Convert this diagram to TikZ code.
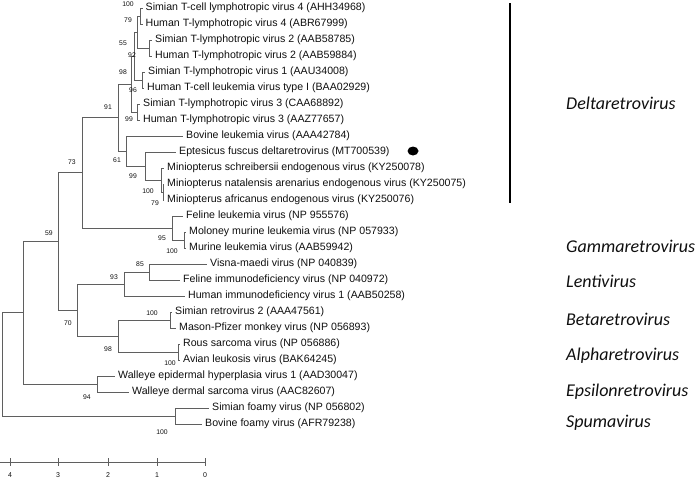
\documentclass[tikz,border=0pt]{standalone}
\usepackage{fontspec}
\setmainfont{Liberation Sans}
\newfontfamily\grpfont{Carlito}
\usetikzlibrary{shapes.geometric}
\definecolor{brc}{RGB}{95,95,95}
\definecolor{txc}{RGB}{15,15,15}
\tikzset{
  br/.style={draw=brc, line width=0.9pt},
  leaf/.style={anchor=west, inner xsep=3pt, inner ysep=0pt, font=\fontsize{10.6}{12}\selectfont, text=txc, text height=7.6pt, text depth=2.2pt},
  bs/.style={font=\fontsize{6.8}{8}\selectfont, text=txc, inner sep=0pt},
  grp/.style={anchor=west, font=\grpfont\itshape\fontsize{18}{20}\selectfont, text=txc, inner sep=0pt},
  sbl/.style={font=\fontsize{7}{8}\selectfont, text=txc, inner sep=0pt}
}
\begin{document}
\begin{tikzpicture}[x=1pt,y=-1pt]
\useasboundingbox (0,0) rectangle (696,479);
% internal nodes
\coordinate (ROOT) at (2,364.3);
\coordinate (A) at (23,312.7);
\coordinate (N59) at (58,241.4);
\coordinate (N73) at (82,172.75);
\coordinate (N91) at (118,117.5);
\coordinate (H) at (131.5,84);
\coordinate (N55) at (134,56);
\coordinate (N79) at (137,32);
\coordinate (P4) at (140,16);
\coordinate (P2) at (149,48);
\coordinate (P1) at (142,80);
\coordinate (P3) at (137,112);
\coordinate (N61) at (126,151);
\coordinate (N99) at (145,166);
\coordinate (M1) at (161,180);
\coordinate (M2) at (163,192);
\coordinate (G) at (172,228);
\coordinate (MLV) at (184,240);
\coordinate (N70) at (77,310);
\coordinate (LN) at (124,284);
\coordinate (V) at (149,272);
\coordinate (BA) at (118,336);
\coordinate (BE) at (170,320);
\coordinate (AL) at (178,352);
\coordinate (EP) at (97,384);
\coordinate (SP) at (175,416);
% leaves
\node[leaf] (L1) at (142.5,8) {Simian T-cell lymphotropic virus 4 (AHH34968)};
\node[leaf] (L2) at (142.5,24) {Human T-lymphotropic virus 4 (ABR67999)};
\node[leaf] (L3) at (152,40) {Simian T-lymphotropic virus 2 (AAB58785)};
\node[leaf] (L4) at (152,56) {Human T-lymphotropic virus 2 (AAB59884)};
\node[leaf] (L5) at (145,72) {Simian T-lymphotropic virus 1 (AAU34008)};
\node[leaf] (L6) at (144,88) {Human T-cell leukemia virus type I (BAA02929)};
\node[leaf] (L7) at (140,104) {Simian T-lymphotropic virus 3 (CAA68892)};
\node[leaf] (L8) at (140,120) {Human T-lymphotropic virus 3 (AAZ77657)};
\node[leaf] (L9) at (183,136) {Bovine leukemia virus (AAA42784)};
\node[leaf] (L10) at (176,152) {Eptesicus fuscus deltaretrovirus (MT700539)};
\node[leaf] (L11) at (164,168) {Miniopterus schreibersii endogenous virus (KY250078)};
\node[leaf] (L12) at (164,184) {Miniopterus natalensis arenarius endogenous virus (KY250075)};
\node[leaf] (L13) at (164,200) {Miniopterus africanus endogenous virus (KY250076)};
\node[leaf] (L14) at (183,216) {Feline leukemia virus (NP 955576)};
\node[leaf] (L15) at (186,232) {Moloney murine leukemia virus (NP 057933)};
\node[leaf] (L16) at (186,248) {Murine leukemia virus (AAB59942)};
\node[leaf] (L17) at (207,264) {Visna-maedi virus (NP 040839)};
\node[leaf] (L18) at (180,280) {Feline immunodeficiency virus (NP 040972)};
\node[leaf] (L19) at (185,296) {Human immunodeficiency virus 1 (AAB50258)};
\node[leaf] (L20) at (172,312) {Simian retrovirus 2 (AAA47561)};
\node[leaf] (L21) at (176,328) {Mason-Pfizer monkey virus (NP 056893)};
\node[leaf] (L22) at (180,344) {Rous sarcoma virus (NP 056886)};
\node[leaf] (L23) at (180,360) {Avian leukosis virus (BAK64245)};
\node[leaf] (L24) at (115,376) {Walleye epidermal hyperplasia virus 1 (AAD30047)};
\node[leaf] (L25) at (129,392) {Walleye dermal sarcoma virus (AAC82607)};
\node[leaf] (L26) at (209,408) {Simian foamy virus (NP 056802)};
\node[leaf] (L27) at (202,424) {Bovine foamy virus (AFR79238)};
% branches
\draw[br] (ROOT) |- (A);
\draw[br] (ROOT) |- (SP);
\draw[br] (A) |- (N59);
\draw[br] (A) |- (EP);
\draw[br] (N59) |- (N73);
\draw[br] (N59) |- (N70);
\draw[br] (N73) |- (N91);
\draw[br] (N73) |- (G);
\draw[br] (N91) |- (H);
\draw[br] (N91) |- (N61);
\draw[br] (H) |- (N55);
\draw[br] (H) |- (P3);
\draw[br] (N55) |- (N79);
\draw[br] (N55) |- (P1);
\draw[br] (N79) |- (P4);
\draw[br] (N79) |- (P2);
\draw[br] (P4) |- (L1.west);
\draw[br] (P4) |- (L2.west);
\draw[br] (P2) |- (L3.west);
\draw[br] (P2) |- (L4.west);
\draw[br] (P1) |- (L5.west);
\draw[br] (P1) |- (L6.west);
\draw[br] (P3) |- (L7.west);
\draw[br] (P3) |- (L8.west);
\draw[br] (N61) |- (L9.west);
\draw[br] (N61) |- (N99);
\draw[br] (N99) |- (L10.west);
\draw[br] (N99) |- (M1);
\draw[br] (M1) |- (L11.west);
\draw[br] (M1) |- (M2);
\draw[br] (M2) |- (L12.west);
\draw[br] (M2) |- (L13.west);
\draw[br] (G) |- (L14.west);
\draw[br] (G) |- (MLV);
\draw[br] (MLV) |- (L15.west);
\draw[br] (MLV) |- (L16.west);
\draw[br] (N70) |- (LN);
\draw[br] (N70) |- (BA);
\draw[br] (LN) |- (V);
\draw[br] (LN) |- (L19.west);
\draw[br] (V) |- (L17.west);
\draw[br] (V) |- (L18.west);
\draw[br] (BA) |- (BE);
\draw[br] (BA) |- (AL);
\draw[br] (BE) |- (L20.west);
\draw[br] (BE) |- (L21.west);
\draw[br] (AL) |- (L22.west);
\draw[br] (AL) |- (L23.west);
\draw[br] (EP) |- (L24.west);
\draw[br] (EP) |- (L25.west);
\draw[br] (SP) |- (L26.west);
\draw[br] (SP) |- (L27.west);
% bootstrap values
\node[bs] (b1) at (128,4) {100};
\node[bs] (b2) at (128,20) {79};
\node[bs] (b3) at (123,43) {55};
\node[bs] (b4) at (132,55) {92};
\node[bs] (b5) at (123,72) {98};
\node[bs] (b6) at (133,90) {96};
\node[bs] (b7) at (129,119) {99};
\node[bs] (b8) at (108,107) {91};
\node[bs] (b9) at (72,162) {73};
\node[bs] (b10) at (117,160) {61};
\node[bs] (b11) at (133,176) {99};
\node[bs] (b12) at (148,191) {100};
\node[bs] (b13) at (155,203) {79};
\node[bs] (b14) at (49,233) {59};
\node[bs] (b15) at (162,238) {95};
\node[bs] (b16) at (172,251) {100};
\node[bs] (b17) at (140,264) {85};
\node[bs] (b18) at (114,277) {93};
\node[bs] (b19) at (68,323) {70};
\node[bs] (b20) at (152,313) {100};
\node[bs] (b21) at (108,349) {98};
\node[bs] (b22) at (170,363) {100};
\node[bs] (b23) at (87,397) {94};
\node[bs] (b24) at (162,432) {100};
% marker dot
\node[ellipse, fill=black, inner sep=0pt, minimum width=11pt, minimum height=9pt] (dot) at (413,151) {};
% clade bar
\coordinate (bartop) at (510,3);
\coordinate (barbot) at (510,203);
\draw[line width=2.6pt, black] (bartop) -- (barbot);
% group labels
\node[grp] (g1) at (566,103) {Deltaretrovirus};
\node[grp] (g2) at (566,246) {Gammaretrovirus};
\node[grp] (g3) at (566,281) {Lentivirus};
\node[grp] (g4) at (566,319) {Betaretrovirus};
\node[grp] (g5) at (566,356) {Alpharetrovirus};
\node[grp] (g6) at (566,392) {Epsilonretrovirus};
\node[grp] (g7) at (566,423) {Spumavirus};
% scale bar
\coordinate (s0) at (0,462);
\coordinate (s5) at (205,462);
\draw[br] (s0) -- (s5);
\foreach \x/\v in {10/4,58/3,108/2,157/1,205/0}{
  \draw[br] (\x,458) -- (\x,466);
  \node[sbl] at (\x,475) {\v};
}
\end{tikzpicture}
\end{document}
